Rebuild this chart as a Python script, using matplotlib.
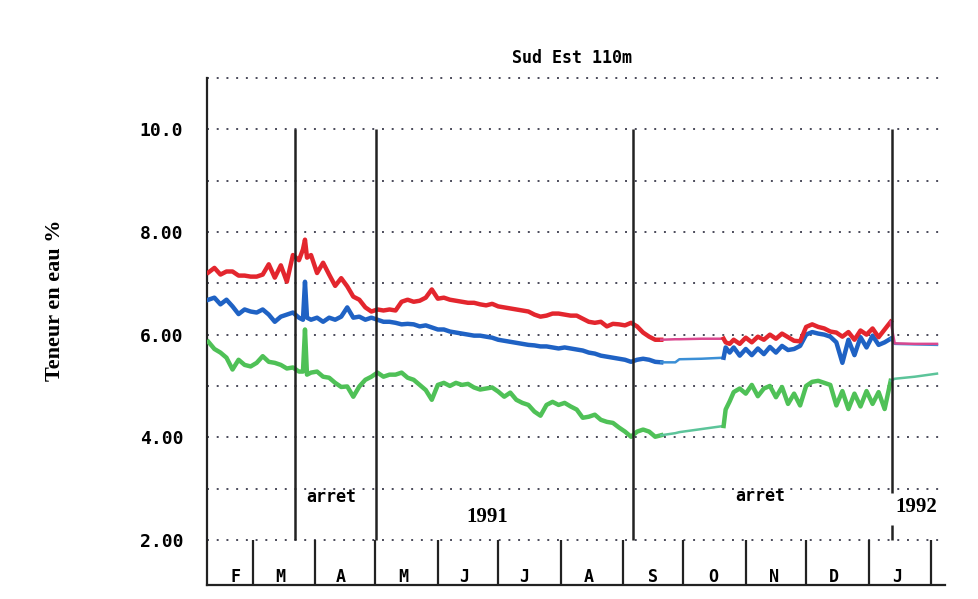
import matplotlib
matplotlib.use('Agg')
from matplotlib import pyplot as plt

# Days counted from 1 Feb 1991, water content in %.
days = [6, 9, 12, 15, 18, 21, 24, 27, 30, 33, 36, 39, 42, 45, 48, 51, 53, 54, 55, 57,
        60, 63, 66, 69, 72, 75, 78, 81, 84, 87, 90, 93, 96, 99, 102, 105, 108, 111, 114, 117,
        120, 123, 126, 129, 132, 135, 138, 141, 144, 147, 150, 153, 156, 159, 162, 165, 168, 171, 174, 177,
        180, 183, 186, 189, 192, 195, 198, 201, 204, 207, 210, 213, 216, 219, 222, 225, 228, 231, 238, 240,
        251, 262, 263, 265, 267, 270, 273, 276, 279, 282, 285, 288, 291, 294, 297, 300, 303, 306, 309, 312,
        315, 318, 321, 324, 327, 330, 333, 336, 339, 342, 345, 347, 357, 368]

red = [7.21, 7.30, 7.17, 7.23, 7.23, 7.15, 7.15, 7.13, 7.13, 7.17, 7.37, 7.11, 7.35, 7.03, 7.55, 7.45, 7.66, 7.85, 7.50, 7.55,
       7.20, 7.40, 7.17, 6.95, 7.10, 6.94, 6.74, 6.68, 6.53, 6.45, 6.49, 6.47, 6.49, 6.47, 6.64, 6.68, 6.64, 6.66, 6.72, 6.88,
       6.70, 6.72, 6.68, 6.66, 6.64, 6.62, 6.62, 6.59, 6.57, 6.60, 6.55, 6.53, 6.51, 6.49, 6.47, 6.45, 6.39, 6.35, 6.37, 6.41,
       6.41, 6.39, 6.37, 6.37, 6.31, 6.25, 6.23, 6.25, 6.16, 6.21, 6.20, 6.18, 6.23, 6.16, 6.04, 5.96, 5.90, 5.90, 5.91, 5.91,
       5.92, 5.92, 5.85, 5.82, 5.90, 5.82, 5.94, 5.85, 5.96, 5.90, 6.00, 5.92, 6.02, 5.95, 5.88, 5.87, 6.15, 6.20, 6.15, 6.12,
       6.06, 6.04, 5.96, 6.05, 5.90, 6.08, 6.00, 6.12, 5.95, 6.10, 6.25, 5.83, 5.82, 5.82]

blue = [6.68, 6.72, 6.59, 6.68, 6.55, 6.40, 6.49, 6.45, 6.43, 6.49, 6.39, 6.25, 6.35, 6.39, 6.43, 6.33, 6.29, 7.03, 6.33, 6.29,
        6.33, 6.25, 6.33, 6.29, 6.35, 6.53, 6.33, 6.35, 6.29, 6.33, 6.29, 6.25, 6.25, 6.23, 6.20, 6.21, 6.20, 6.16, 6.18, 6.14,
        6.10, 6.10, 6.06, 6.04, 6.02, 6.00, 5.98, 5.98, 5.96, 5.94, 5.90, 5.88, 5.86, 5.84, 5.82, 5.80, 5.79, 5.77, 5.77, 5.75,
        5.73, 5.75, 5.73, 5.71, 5.69, 5.65, 5.63, 5.59, 5.57, 5.55, 5.53, 5.51, 5.47, 5.51, 5.53, 5.51, 5.47, 5.46, 5.46, 5.52,
        5.53, 5.55, 5.75, 5.65, 5.75, 5.59, 5.72, 5.60, 5.73, 5.62, 5.76, 5.65, 5.78, 5.70, 5.72, 5.78, 6.00, 6.05, 6.02, 6.00,
        5.96, 5.85, 5.45, 5.90, 5.60, 5.95, 5.75, 5.98, 5.80, 5.85, 5.92, 5.82, 5.81, 5.80]

green = [5.86, 5.72, 5.65, 5.55, 5.32, 5.51, 5.41, 5.38, 5.45, 5.58, 5.47, 5.45, 5.41, 5.34, 5.36, 5.28, 5.28, 6.10, 5.22, 5.26,
         5.28, 5.18, 5.16, 5.06, 4.98, 4.99, 4.79, 4.99, 5.12, 5.18, 5.26, 5.18, 5.22, 5.22, 5.26, 5.16, 5.12, 5.02, 4.92, 4.73,
         5.02, 5.06, 5.00, 5.06, 5.02, 5.04, 4.97, 4.93, 4.95, 4.97, 4.89, 4.79, 4.87, 4.73, 4.67, 4.63, 4.50, 4.42, 4.63, 4.69,
         4.63, 4.67, 4.60, 4.54, 4.38, 4.40, 4.44, 4.34, 4.30, 4.28, 4.19, 4.11, 4.01, 4.11, 4.15, 4.11, 4.01, 4.04, 4.08, 4.10,
         4.16, 4.22, 4.54, 4.70, 4.88, 4.95, 4.85, 5.02, 4.80, 4.95, 5.00, 4.78, 4.98, 4.65, 4.85, 4.62, 5.00, 5.08, 5.10, 5.06,
         5.02, 4.62, 4.90, 4.55, 4.85, 4.60, 4.90, 4.65, 4.88, 4.55, 5.10, 5.14, 5.18, 5.24]

months = ['F', 'M', 'A', 'M', 'J', 'J', 'A', 'S', 'O', 'N', 'D', 'J']
month_pos = [19.6, 41.9, 72, 103, 133, 163, 195, 227, 257, 287, 317, 348]
month_ends = [28, 59, 89, 120, 150, 181, 212, 242, 273, 303, 334, 365]
stops = [48.8, 89.5, 217]   # vertical marker lines
yticks = [2, 4, 6, 8, 10]
ytick_labels = ['2.00', '4.00', '6.00', '8.00', '10.0']

mono = 'DejaVu Sans Mono'
serif = 'Liberation Serif'

fig = plt.figure(figsize=(9.79, 5.99), dpi=100)
ax = fig.add_axes([0.2114, 0.0234, 0.7539, 0.8464])
ax.set_xlim(5.3, 372)
ax.set_ylim(1.122, 11.0)

# Dotted horizontal grid
for v in range(2, 12):
    ax.axhline(v, color='#4a4a5a', ls=(0, (1, 4)), lw=1.4, clip_on=False, zorder=1)

# Series: recorded parts thick, the straight parts (no data, "arret") thin
series = [(green, '#4fc157', '#5cc49a', 3),
          (blue, '#1f62c4', '#3b8fd6', 4),
          (red, '#e3262e', '#d9488f', 5)]
for vals, col, col_gap, z in series:
    ax.plot(days[:78], vals[:78], color=col, lw=3.2, zorder=z)
    ax.plot(days[77:82], vals[77:82], color=col_gap, lw=1.8, zorder=z)
    ax.plot(days[81:111], vals[81:111], color=col, lw=3.2, zorder=z)
    ax.plot(days[110:], vals[110:], color=col_gap, lw=1.8, zorder=z)

# Vertical markers
ax.vlines(stops, 2, 10, color='#222222', lw=1.8, zorder=6)
ax.vlines(345.6, 2.92, 10, color='#222222', lw=1.8, zorder=6)
ax.vlines(345.6, 2.0, 2.3, color='#222222', lw=1.8, zorder=6)

# Month strip
ax.vlines(month_ends, 1.122, 2.0, color='#222222', lw=1.6, zorder=6)
for m, p in zip(months, month_pos):
    ax.text(p, 1.28, m, ha='center', va='center', family=mono, weight='bold', fontsize=12)

# Annotations
ax.text(67.2, 2.84, 'arret', ha='center', va='center', family=mono, weight='bold', fontsize=12)
ax.text(280, 2.86, 'arret', ha='center', va='center', family=mono, weight='bold', fontsize=12)
ax.text(144.6, 2.45, '1991', ha='center', va='center', family=serif, weight='bold', fontsize=15)
ax.text(357.5, 2.64, '1992', ha='center', va='center', family=serif, weight='bold', fontsize=15)

# Axes format
ax.set_xticks([])
ax.set_yticks(yticks)
ax.set_yticklabels(ytick_labels, family=mono, weight='bold', fontsize=13)
ax.tick_params(axis='y', length=0, pad=17)
for s in ['top', 'right']:
    ax.spines[s].set_visible(False)
for s in ['left', 'bottom']:
    ax.spines[s].set_color('#222222')
    ax.spines[s].set_linewidth(1.6)

fig.text(572 / 979, 1 - 58 / 599, 'Sud Est 110m', ha='center', va='center',
         family=mono, weight='bold', fontsize=12)
fig.text(55 / 979, 1 - 300 / 599, 'Teneur en eau %', ha='center', va='center',
         rotation=90, family=serif, weight='bold', fontsize=16)

fig.savefig('out.png', dpi=100)
